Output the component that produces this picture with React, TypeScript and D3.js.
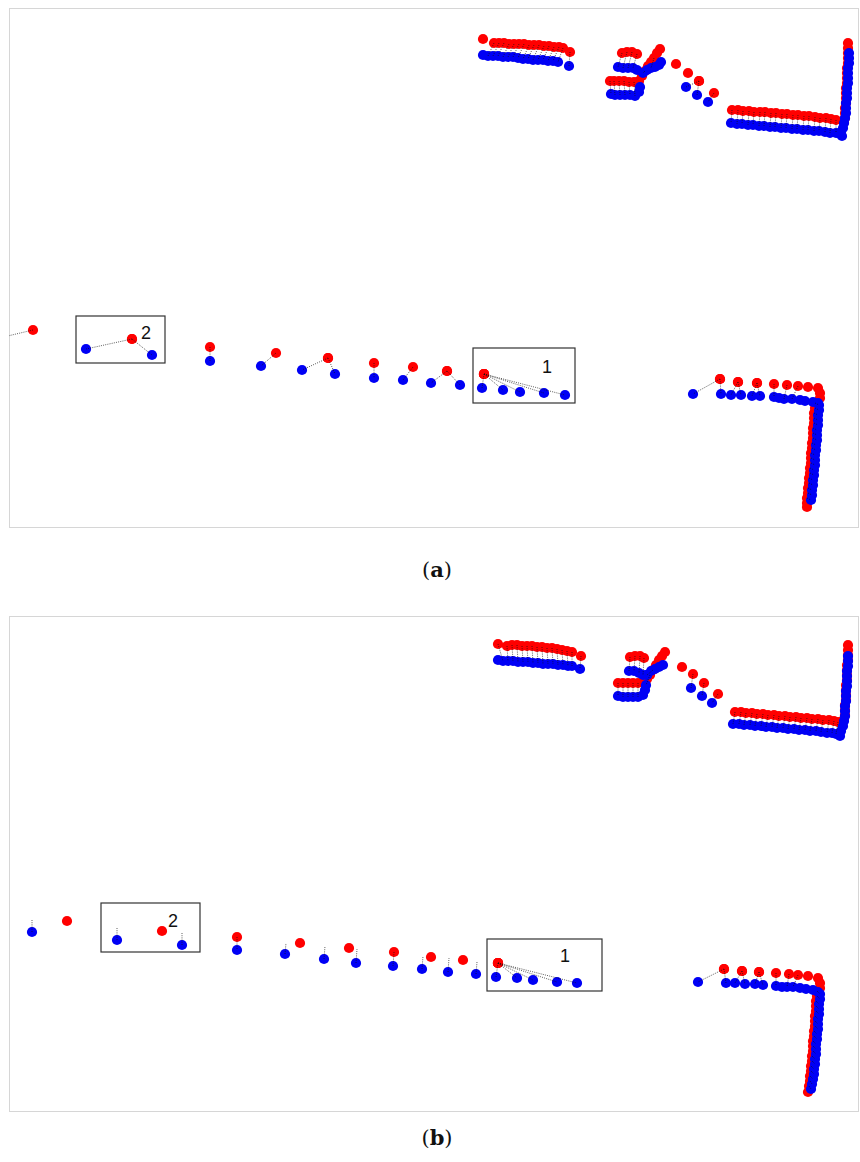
import React from 'react'
import * as d3 from 'd3'

// panel (a): [redX, redY, blueX, blueY] for every matched pair joined by a dotted line
const pairsA: number[][] = [
  [485, 35, 479, 48], [490, 35, 484, 48], [495, 35, 489, 48], [500, 36, 494, 49], [505, 36, 499, 49],
  [510, 36, 504, 49], [515, 36, 509, 50], [520, 37, 514, 51], [525, 37, 519, 51], [530, 37, 524, 52],
  [535, 38, 529, 52], [540, 38, 534, 52], [545, 39, 539, 53], [550, 39, 544, 53], [554, 40, 549, 54],
  [561, 44, 560, 58],
  [613, 45, 609, 59], [618, 44, 614, 60], [623, 44, 619, 60], [628, 46, 624, 60],
  [601, 73, 602, 86], [605, 73, 606, 87], [610, 73, 611, 87], [615, 73, 616, 87], [620, 74, 621, 87], [625, 74, 626, 88],
  [636, 63, 634, 65], [645, 50, 642, 60],
  [690, 73, 677, 79], [690, 73, 688, 87], [705, 85, 699, 94],
  [723, 102, 722, 115], [729, 102, 728, 116], [734, 103, 733, 116], [740, 103, 739, 117], [745, 104, 744, 117],
  [751, 104, 750, 118], [756, 104, 755, 118], [762, 105, 761, 119], [767, 105, 766, 119], [773, 106, 772, 120],
  [778, 106, 777, 120], [784, 107, 783, 121], [789, 107, 788, 121], [795, 108, 794, 122], [800, 108, 799, 122],
  [806, 109, 805, 123], [811, 110, 810, 123], [817, 110, 816, 124], [822, 111, 821, 125], [827, 112, 827, 125],
  [24, 322, -14, 331],
  [123, 331, 77, 341], [123, 331, 143, 347], [201, 339, 201, 353], [267, 345, 252, 358],
  [319, 350, 293, 362], [319, 350, 326, 366], [365, 355, 365, 370], [404, 359, 394, 372],
  [438, 363, 422, 375], [438, 363, 451, 377],
  [475, 366, 473, 380], [475, 366, 494, 382], [475, 366, 511, 384], [475, 366, 535, 385], [475, 366, 556, 387],
  [711, 371, 684, 386], [711, 371, 712, 386], [729, 374, 722, 387], [729, 374, 732, 387], [748, 375, 743, 388],
  [748, 375, 751, 388], [765, 376, 765, 389], [778, 377, 775, 391], [789, 378, 783, 391],
  [806, 395, 810, 397], [806, 400, 810, 402], [805, 405, 809, 407], [805, 410, 809, 412], [805, 415, 809, 417],
  [804, 420, 808, 422], [804, 425, 808, 427], [804, 430, 808, 432], [803, 435, 807, 437], [803, 440, 807, 442],
  [802, 445, 806, 447], [802, 450, 806, 452], [802, 455, 806, 457], [801, 460, 805, 462], [801, 465, 805, 467],
  [800, 470, 804, 472], [800, 475, 804, 477], [799, 480, 803, 482], [799, 485, 803, 487], [798, 490, 802, 492]
]
const redOnlyA: number[][] = [
  [474, 31],
  [630, 73], [633, 68], [639, 58], [642, 54], [648, 45], [651, 41],
  [667, 56], [679, 65],
  [839, 35], [839, 40], [839, 45], [839, 50], [839, 55], [838, 60], [838, 65], [838, 70], [838, 75],
  [837, 80], [837, 85], [837, 90], [837, 95], [836, 100], [836, 105], [836, 110], [835, 114],
  [799, 379], [809, 380], [811, 385], [811, 390], [798, 495], [798, 499]
]
const blueOnlyA: number[][] = [
  [474, 47], [628, 62],
  [630, 84], [631, 79], [638, 62], [646, 59], [650, 57], [652, 54],
  [831, 126], [833, 128],
  [840, 45], [840, 50], [840, 55], [839, 60], [839, 65], [839, 70], [839, 75], [838, 80], [838, 85],
  [838, 90], [837, 95], [837, 100], [837, 105], [836, 110], [835, 115], [834, 120], [832, 124],
  [770, 390], [791, 392], [796, 393], [804, 394], [809, 395]
]
const boxesA = [
  { label: '2', x0: 67, y0: 308, x1: 156, y1: 355, lx: 137, ly: 325 },
  { label: '1', x0: 464, y0: 340, x1: 566, y1: 395, lx: 538, ly: 359 }
]

// panel (b)
const pairsB: number[][] = [
  [498, 30, 499, 45], [503, 29, 504, 45], [508, 29, 509, 46], [513, 30, 514, 46], [518, 30, 519, 46],
  [523, 30, 524, 47], [528, 31, 529, 47], [533, 31, 534, 48], [538, 32, 539, 48], [543, 32, 544, 48],
  [548, 33, 549, 49], [553, 34, 554, 49], [558, 35, 559, 50], [563, 36, 563, 50],
  [489, 28, 494, 45], [572, 40, 571, 53],
  [621, 41, 620, 55], [626, 40, 625, 55], [631, 40, 630, 57], [635, 42, 634, 59],
  [609, 67, 609, 80], [614, 67, 614, 81], [619, 67, 619, 81], [624, 67, 624, 81], [629, 67, 629, 81],
  [644, 54, 638, 59], [641, 59, 637, 69],
  [684, 58, 682, 72], [695, 67, 693, 80], [709, 78, 703, 87],
  [726, 96, 724, 108], [732, 96, 730, 108], [737, 97, 735, 109], [743, 97, 741, 109], [748, 98, 746, 110],
  [754, 98, 752, 110], [759, 99, 757, 111], [765, 99, 763, 111], [770, 100, 768, 112], [776, 100, 774, 112],
  [781, 101, 779, 113], [787, 101, 785, 113], [792, 102, 790, 114], [798, 102, 796, 114], [803, 103, 801, 115],
  [809, 103, 807, 115], [814, 104, 812, 116], [820, 104, 818, 117], [825, 105, 823, 117], [829, 106, 827, 118],
  [228, 321, 228, 334], [385, 336, 384, 350],
  [489, 347, 487, 361], [489, 347, 508, 362], [489, 347, 524, 364], [489, 347, 548, 366], [489, 347, 568, 367],
  [715, 353, 689, 366], [715, 353, 717, 367], [733, 355, 726, 367], [733, 355, 736, 368], [750, 356, 746, 368],
  [750, 356, 754, 369], [767, 357, 767, 370], [780, 358, 778, 371], [789, 359, 784, 371],
  [808, 375, 811, 378], [808, 380, 811, 383], [807, 385, 810, 388], [807, 390, 810, 393], [807, 395, 810, 398],
  [806, 400, 809, 403], [806, 405, 809, 408], [806, 410, 809, 413], [805, 415, 808, 418], [805, 420, 808, 423],
  [804, 425, 807, 428], [804, 430, 807, 433], [804, 435, 807, 438], [803, 440, 806, 443], [803, 445, 806, 448],
  [802, 450, 805, 453], [802, 455, 805, 458], [801, 460, 804, 463], [801, 465, 803, 468], [800, 470, 802, 473]
]
const redOnlyB: number[][] = [
  [634, 66], [638, 63], [647, 49], [650, 44], [653, 40], [656, 36],
  [673, 51],
  [839, 29], [839, 34], [839, 39], [839, 44], [838, 49], [838, 54], [838, 59], [838, 64],
  [837, 69], [837, 74], [837, 79], [837, 84], [836, 89], [836, 94], [836, 99], [835, 103],
  [58, 305], [153, 315], [291, 327], [340, 332], [422, 341], [454, 344],
  [799, 360], [809, 362], [811, 367], [811, 372], [799, 476]
]
const blueOnlyB: number[][] = [
  [489, 44], [638, 59],
  [634, 79], [636, 74], [642, 55], [646, 53], [650, 51], [654, 49],
  [831, 120],
  [839, 40], [839, 45], [839, 50], [838, 55], [838, 60], [838, 65], [838, 70], [837, 75], [837, 80],
  [837, 85], [836, 90], [836, 95], [836, 100], [835, 105], [834, 110], [832, 115],
  [773, 371], [791, 372], [797, 373], [804, 374], [809, 376]
]
// blue points whose dotted line runs off toward an unseen partner: [blueX, blueY, tipX, tipY]
const stubsB: number[][] = [
  [23, 316, 23, 304], [108, 324, 108, 311], [173, 329, 173, 317], [276, 338, 277, 327], [315, 343, 316, 330],
  [347, 347, 348, 333], [413, 353, 414, 340], [439, 356, 440, 342], [467, 358, 468, 346]
]
const boxesB = [
  { label: '2', x0: 92, y0: 287, x1: 191, y1: 336, lx: 164, ly: 305 },
  { label: '1', x0: 478, y0: 323, x1: 593, y1: 375, lx: 556, ly: 340 }
]

const RED = '#ff0000'
const BLUE = '#0000f5'
const R = 5.1

function Panel(props: any) {
  const { id, top, height, pairs, redOnly, blueOnly, stubs, boxes, caption, captionY } = props
  const x = d3.scaleLinear().domain([0, 850]).range([9, 859])
  const y = d3.scaleLinear().domain([0, height]).range([top, top + height])
  const reds = pairs.map((p: number[]) => [p[0], p[1]]).concat(redOnly)
  const blues = pairs.map((p: number[]) => [p[2], p[3]]).concat(blueOnly, stubs.map((s: number[]) => [s[0], s[1]]))
  const dot = { stroke: '#111', strokeWidth: 0.8, strokeDasharray: '1 1.2', opacity: 0.85 }
  return (
    <g>
      <defs>
        <clipPath id={'clip' + id}>
          <rect x={x(0)} y={y(0)} width={x(850) - x(0)} height={y(height) - y(0)} />
        </clipPath>
      </defs>
      <rect x={x(0) + 0.5} y={y(0) + 0.5} width={x(850) - x(0) - 1} height={y(height) - y(0)}
        fill="none" stroke="#d6d6d6" strokeWidth={1} />
      <g clipPath={`url(#clip${id})`}>
        {reds.map((p: number[], i: number) => (
          <circle key={'r' + i} cx={x(p[0])} cy={y(p[1])} r={R} fill={RED} />
        ))}
        {blues.map((p: number[], i: number) => (
          <circle key={'b' + i} cx={x(p[0])} cy={y(p[1])} r={R} fill={BLUE} />
        ))}
        {pairs.map((p: number[], i: number) => (
          <line key={'l' + i} x1={x(p[0])} y1={y(p[1])} x2={x(p[2])} y2={y(p[3])} {...dot} />
        ))}
        {stubs.map((s: number[], i: number) => (
          <line key={'s' + i} x1={x(s[0])} y1={y(s[1])} x2={x(s[2])} y2={y(s[3])} {...dot} />
        ))}
      </g>
      {boxes.map((b: any) => (
        <g key={b.label}>
          <rect x={x(b.x0)} y={y(b.y0)} width={x(b.x1) - x(b.x0)} height={y(b.y1) - y(b.y0)}
            fill="none" stroke="#333" strokeWidth={1.2} />
          <text x={x(b.lx)} y={y(b.ly)} textAnchor="middle" dominantBaseline="central"
            fontFamily="Liberation Sans, Arial, sans-serif" fontSize={18} fill="#111">{b.label}</text>
        </g>
      ))}
      <text x={437} y={captionY} textAnchor="middle" fontFamily="DejaVu Serif, Liberation Serif, serif"
        fontSize={21} fill="#111">
        (<tspan fontWeight="bold">{caption}</tspan>)
      </text>
    </g>
  )
}

export default function App() {
  return (
    <div style={{ position: 'absolute', left: 0, top: 0 }}>
      <svg width={860} height={1162} style={{ display: 'block', background: '#fff' }}>
        <Panel id="a" top={8} height={519} pairs={pairsA} redOnly={redOnlyA} blueOnly={blueOnlyA}
          stubs={[]} boxes={boxesA} caption="a" captionY={577} />
        <Panel id="b" top={616} height={495} pairs={pairsB} redOnly={redOnlyB} blueOnly={blueOnlyB}
          stubs={stubsB} boxes={boxesB} caption="b" captionY={1145} />
      </svg>
    </div>
  )
}
